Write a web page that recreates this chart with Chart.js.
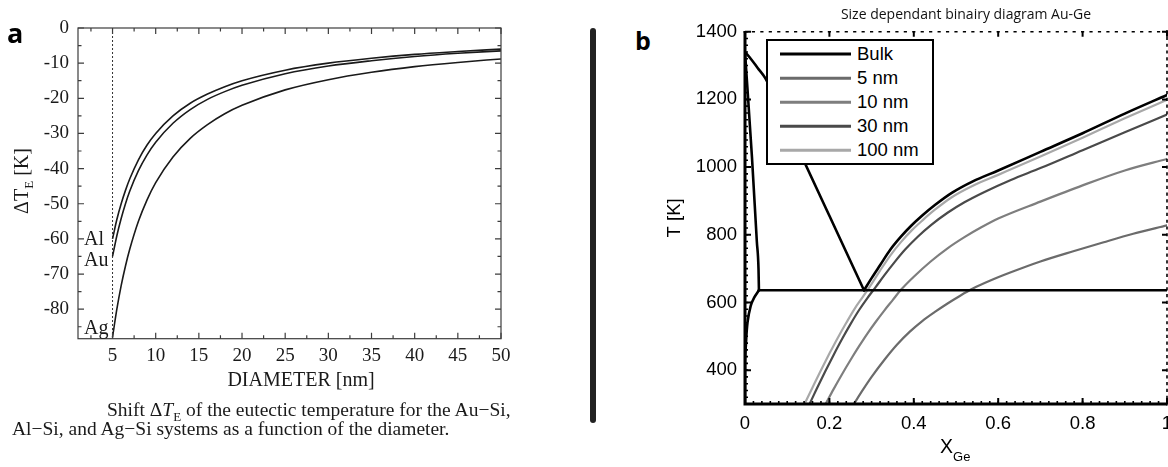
<!DOCTYPE html>
<html lang="en">
<head>
<meta charset="UTF-8">
<title>Eutectic shift and size dependent Au-Ge diagram</title>
<script src="https://cdn.jsdelivr.net/npm/chart.js"></script>
<style>
  html, body { margin: 0; padding: 0; background: white; }
  body { position: relative; width: 1168px; height: 467px; overflow: hidden; }
  canvas { position: absolute; }
  .abs { position: absolute; white-space: nowrap; line-height: 1; }
  .serif { font-family: "Liberation Serif", "DejaVu Serif", serif; color: #1a1a1a; }
  .sans { font-family: "Liberation Sans", Arial, sans-serif; color: #000; }
  .panel { font-family: "Open Sans", "DejaVu Sans", sans-serif; font-weight: 700; color: #000; }
  .mid { transform: translate(-50%, -50%); }
  #legendB { position: absolute; left: 766px; top: 39px; width: 168px; height: 126px; box-sizing: border-box;
             border: 2px solid #000; background: #fff; padding-top: 1.3px; }
  .row { position: relative; height: 24px; }
  .row .swatch { position: absolute; left: 12px; width: 71px; top: 50%; transform: translateY(-50%); }
  .row .txt { position: absolute; left: 89px; top: 0; line-height: 24px; font-size: 18.5px; }
</style>
</head>
<body>
<canvas id="chartA" width="530" height="390" style="left:0;top:0"></canvas>
<canvas id="chartB" width="552" height="467" style="left:655px;top:0"></canvas>

<div class="abs panel" style="left:7px;top:19px;font-size:27px">a</div>
<div class="abs panel" style="left:635px;top:28px;font-size:25px">b</div>
<div class="abs" style="left:590px;top:28px;width:6px;height:395px;border-radius:3px;background:#222"></div>

<div class="abs serif" style="left:23px;top:181px;font-size:20px;transform:translate(-50%,-50%) rotate(-90deg)">&Delta;T<sub style="font-size:13px">E</sub> [K]</div>
<div class="abs serif mid" style="left:301px;top:379px;font-size:20px">DIAMETER [nm]</div>
<div class="abs serif" style="left:84px;top:237.5px;font-size:20px;transform:translateY(-50%)">Al</div>
<div class="abs serif" style="left:84px;top:259px;font-size:20px;transform:translateY(-50%)">Au</div>
<div class="abs serif" style="left:84px;top:327px;font-size:20px;transform:translateY(-50%)">Ag</div>
<div class="abs serif" style="left:107px;top:399.7px;font-size:19.5px">Shift &Delta;<i>T</i><sub style="font-size:13px">E</sub> of the eutectic temperature for the Au&minus;Si,</div>
<div class="abs serif" style="left:12px;top:419px;font-size:19.5px">Al&minus;Si, and Ag&minus;Si systems as a function of the diameter.</div>

<div class="abs mid" style="left:966px;top:14px;font-size:14px;font-family:'Open Sans',sans-serif;color:#111">Size dependant binairy diagram Au-Ge</div>
<div class="abs sans" style="left:940px;top:437px;font-size:19.5px">X<span style="font-size:13px;position:relative;top:8px">Ge</span></div>
<div id="legendB" class="sans"></div>

<script>
// ---- panel a: eutectic shift vs diameter ----
const diamNm = [5, 5.5, 6, 6.5, 7, 8, 9, 10, 12, 14, 16, 18, 20, 25, 30, 35, 40, 45, 50];
const shiftAl = [-60, -54.5, -50, -46.2, -42.9, -37.5, -33.3, -30, -25, -21.4, -18.8, -16.7, -15, -12, -10, -8.6, -7.5, -6.7, -6.0];
const shiftAu = [-65, -59.1, -54.2, -50, -46.4, -40.6, -36.1, -32.5, -27.1, -23.2, -20.3, -18.1, -16.3, -13, -10.8, -9.3, -8.1, -7.2, -6.5];
const shiftAg = [-88, -80, -73.3, -67.7, -62.9, -55, -48.9, -44, -36.7, -31.4, -27.5, -24.4, -22, -17.6, -14.7, -12.6, -11, -9.8, -8.8];
const cutoffD = 5;
const diamTicks = [5, 10, 15, 20, 25, 30, 35, 40, 45, 50];
const diamMinor = [2.5, 7.5, 12.5, 17.5, 22.5, 27.5, 32.5, 37.5, 42.5, 47.5];
const shiftTicks = [0, -10, -20, -30, -40, -50, -60, -70, -80];
const shiftMinor = [-5, -15, -25, -35, -45, -55, -65, -75, -85];

// ---- panel b: Au-Ge phase diagram ----
const sizeLabels = ['Bulk', '5 nm', '10 nm', '30 nm', '100 nm'];
const sizeColors = ['#000000', '#6b6b6b', '#7e7e7e', '#4a4a4a', '#a8a8a8'];
const sizeWidths = [3, 2.5, 2.5, 2.5, 2.5];

const xLiqAu = [0, 0.015, 0.03, 0.048, 0.1, 0.2, 0.282];
const tLiqAu = [1340, 1318, 1293, 1263, 1124, 856, 636];
const xLiqGe = [0.282, 0.30, 0.32, 0.345, 0.37, 0.395, 0.42, 0.45, 0.49, 0.54, 0.6, 0.7, 0.8, 0.9, 1.0];
const tLiqGe = [636, 672, 710, 757, 795, 828, 857, 888, 924, 958, 990, 1045, 1100, 1158, 1213];
const xSolidus = [0, 0.0166, 0.028, 0.032, 0.033];
const tSolidus = [1340, 1027, 781, 700, 636];
const xSolvus = [0, 0, 0.002, 0.006, 0.0135, 0.022, 0.033];
const tSolvus = [300, 420, 472, 541, 590, 615, 636];
const xEutectic = [0.033, 1];
const eutecticT = 636;

const x5nm = [0.258, 0.28, 0.3, 0.33, 0.36, 0.39, 0.42, 0.45, 0.48, 0.51, 0.54, 0.58, 0.63, 0.7, 0.78, 0.85, 0.92, 1.0];
const t5nm = [300, 343, 380, 430, 475, 513, 545, 572, 597, 620, 641, 664, 689, 721, 752, 778, 803, 828];
const x10nm = [0.191, 0.21, 0.23, 0.25, 0.27, 0.29, 0.31, 0.33, 0.35, 0.37, 0.4, 0.44, 0.48, 0.52, 0.56, 0.6, 0.7, 0.8, 0.9, 1.0];
const t10nm = [300, 344, 388, 430, 470, 508, 543, 576, 607, 638, 676, 721, 760, 793, 822, 848, 898, 946, 990, 1024];
const x30nm = [0.153, 0.17, 0.19, 0.21, 0.23, 0.25, 0.27, 0.29, 0.31, 0.33, 0.355, 0.38, 0.41, 0.44, 0.48, 0.52, 0.57, 0.63, 0.7, 0.8, 0.9, 1.0];
const t30nm = [300, 345, 396, 445, 492, 536, 577, 613, 646, 680, 720, 757, 795, 828, 865, 896, 928, 962, 997, 1050, 1103, 1155];
const x100nm = [0.141, 0.16, 0.18, 0.2, 0.22, 0.24, 0.26, 0.28, 0.30, 0.32, 0.345, 0.37, 0.395, 0.42, 0.45, 0.49, 0.54, 0.6, 0.7, 0.8, 0.9, 1.0];
const t100nm = [300, 349, 400, 449, 496, 540, 582, 618, 655, 694, 740, 779, 813, 842, 874, 911, 945, 977, 1031, 1087, 1144, 1199];

const xGeTicks = [0, 0.2, 0.4, 0.6, 0.8, 1];
const tempTicks = [400, 600, 800, 1000, 1200, 1400];

const pts = (xs, ys) => xs.map((v, i) => ({ x: v, y: ys[i] }));
const serifFont = '"Liberation Serif", "DejaVu Serif", serif';
const sansFont = '"Liberation Sans", Arial, sans-serif';

const frameA = {
  id: 'frameA',
  afterDatasetsDraw(chart) {
    const { ctx, chartArea: a, scales: { x, y } } = chart;
    ctx.save();
    ctx.strokeStyle = '#3c3c3c';
    ctx.lineWidth = 1.2;
    ctx.strokeRect(a.left, a.top, a.right - a.left, a.bottom - a.top);
    ctx.beginPath();
    const tx = (vals, len) => vals.forEach(v => {
      const px = x.getPixelForValue(v);
      ctx.moveTo(px, a.bottom); ctx.lineTo(px, a.bottom - len);
      ctx.moveTo(px, a.top); ctx.lineTo(px, a.top + len);
    });
    const ty = (vals, len) => vals.forEach(v => {
      const py = y.getPixelForValue(v);
      ctx.moveTo(a.left, py); ctx.lineTo(a.left + len, py);
      ctx.moveTo(a.right, py); ctx.lineTo(a.right - len, py);
    });
    tx(diamTicks, 6); tx(diamMinor, 3.5);
    ty(shiftTicks, 6); ty(shiftMinor, 3.5);
    ctx.stroke();
    ctx.restore();
  }
};

const frameB = {
  id: 'frameB',
  afterDatasetsDraw(chart) {
    const { ctx, chartArea: a, scales: { x, y } } = chart;
    ctx.save();
    ctx.strokeStyle = '#000';
    // dotted top and right edges (one dash per minor tick)
    ctx.lineWidth = 1.6;
    ctx.beginPath();
    for (let i = 0; i <= 50; i++) {
      const px = x.getPixelForValue(i * 0.02);
      ctx.moveTo(px - 1.6, a.top); ctx.lineTo(px + 1.6, a.top);
      ctx.moveTo(px, a.bottom); ctx.lineTo(px, a.bottom - 3);
    }
    for (let v = 300; v <= 1400; v += 20) {
      const py = y.getPixelForValue(v);
      ctx.moveTo(a.right, py - 1.6); ctx.lineTo(a.right, py + 1.6);
      ctx.moveTo(a.left, py); ctx.lineTo(a.left + 3, py);
    }
    ctx.stroke();
    ctx.lineWidth = 2;
    ctx.beginPath();
    xGeTicks.forEach(v => {
      const px = x.getPixelForValue(v);
      ctx.moveTo(px, a.bottom); ctx.lineTo(px, a.bottom - 6);
      ctx.moveTo(px, a.top); ctx.lineTo(px, a.top + 5);
    });
    tempTicks.forEach(v => {
      const py = y.getPixelForValue(v);
      ctx.moveTo(a.left, py); ctx.lineTo(a.left + 6, py);
      ctx.moveTo(a.right, py); ctx.lineTo(a.right - 5, py);
    });
    ctx.stroke();
    // solid left and bottom axes
    ctx.lineWidth = 3;
    ctx.beginPath();
    ctx.moveTo(a.left, a.top); ctx.lineTo(a.left, a.bottom); ctx.lineTo(a.right, a.bottom);
    ctx.stroke();
    ctx.restore();
  }
};

const curveA = (label, data) => ({
  label, data, borderColor: '#1a1a1a', borderWidth: 1.6, cubicInterpolationMode: 'monotone'
});

new Chart(document.getElementById('chartA'), {
  type: 'line',
  data: {
    datasets: [
      curveA('Al', pts(diamNm, shiftAl)),
      curveA('Au', pts(diamNm, shiftAu)),
      curveA('Ag', pts(diamNm, shiftAg)),
      { label: 'd = 5 nm', data: [{ x: cutoffD, y: 0 }, { x: cutoffD, y: -88.4 }],
        borderColor: '#333', borderWidth: 1, borderDash: [2, 2] }
    ]
  },
  options: {
    responsive: false,
    animation: false,
    layout: { padding: { top: 28, right: 29, left: 0, bottom: 0 } },
    elements: { point: { radius: 0 } },
    plugins: { legend: { display: false }, tooltip: { enabled: false } },
    scales: {
      x: {
        type: 'linear', min: 1, max: 50,
        grid: { display: false, drawTicks: false }, border: { display: false },
        afterBuildTicks: s => { s.ticks = diamTicks.map(v => ({ value: v })); },
        afterFit: s => { s.height = 51.3; },
        ticks: { padding: 6, color: '#1a1a1a', maxRotation: 0, autoSkip: false,
                 font: { family: serifFont, size: 19 }, callback: v => String(v) }
      },
      y: {
        type: 'linear', min: -88.4, max: 0,
        grid: { display: false, drawTicks: false }, border: { display: false },
        afterBuildTicks: s => { s.ticks = shiftTicks.map(v => ({ value: v })); },
        afterFit: s => { s.width = 78; },
        ticks: { padding: 9, color: '#1a1a1a', autoSkip: false,
                 font: { family: serifFont, size: 19 }, callback: v => String(v) }
      }
    }
  },
  plugins: [frameA]
});

const bulk = (data, extra) => Object.assign({ label: 'Bulk', data, borderColor: sizeColors[0], borderWidth: 2.6 }, extra);
const nano = (i, xs, ts) => ({ label: sizeLabels[i], data: pts(xs, ts), borderColor: sizeColors[i],
  borderWidth: 2.2, cubicInterpolationMode: 'monotone' });

new Chart(document.getElementById('chartB'), {
  type: 'line',
  data: {
    datasets: [
      bulk(pts(xLiqAu, tLiqAu), { cubicInterpolationMode: 'monotone' }),
      bulk(pts(xLiqGe, tLiqGe), { cubicInterpolationMode: 'monotone' }),
      bulk(pts(xSolidus, tSolidus), { cubicInterpolationMode: 'monotone' }),
      bulk(pts(xSolvus, tSolvus), { tension: 0.35 }),
      bulk(xEutectic.map(v => ({ x: v, y: eutecticT }))),
      nano(4, x100nm, t100nm),
      nano(3, x30nm, t30nm),
      nano(2, x10nm, t10nm),
      nano(1, x5nm, t5nm)
    ]
  },
  options: {
    responsive: false,
    animation: false,
    layout: { padding: { top: 31.7, right: 40, left: 0, bottom: 0 } },
    elements: { point: { radius: 0 }, line: { borderCapStyle: 'round', borderJoinStyle: 'round' } },
    plugins: { legend: { display: false }, tooltip: { enabled: false } },
    scales: {
      x: {
        type: 'linear', min: 0, max: 1,
        grid: { display: false, drawTicks: false }, border: { display: false },
        afterBuildTicks: s => { s.ticks = xGeTicks.map(v => ({ value: v })); },
        afterFit: s => { s.height = 63; },
        ticks: { padding: 9, color: '#000', maxRotation: 0, autoSkip: false,
                 font: { family: sansFont, size: 18.5 },
                 callback: v => (v === 0 || v === 1) ? String(v) : v.toFixed(1) }
      },
      y: {
        type: 'linear', min: 300, max: 1400,
        grid: { display: false, drawTicks: false }, border: { display: false },
        afterBuildTicks: s => { s.ticks = tempTicks.map(v => ({ value: v })); },
        afterFit: s => { s.width = 90; },
        ticks: { padding: 8, color: '#000', autoSkip: false, font: { family: sansFont, size: 18.5 },
                 callback: v => String(v) },
        title: { display: true, text: 'T [K]', color: '#000', padding: { top: 9, bottom: 0 },
                 font: { family: sansFont, size: 18.5 } }
      }
    }
  },
  plugins: [frameB]
});

// legend box for panel b
const legendBox = document.getElementById('legendB');
sizeLabels.forEach((lab, i) => {
  const row = document.createElement('div');
  row.className = 'row';
  row.innerHTML = '<div class="swatch" style="height:' + sizeWidths[i] + 'px;background:' + sizeColors[i] +
    '"></div><div class="txt">' + lab + '</div>';
  legendBox.appendChild(row);
});
</script>
</body>
</html>
